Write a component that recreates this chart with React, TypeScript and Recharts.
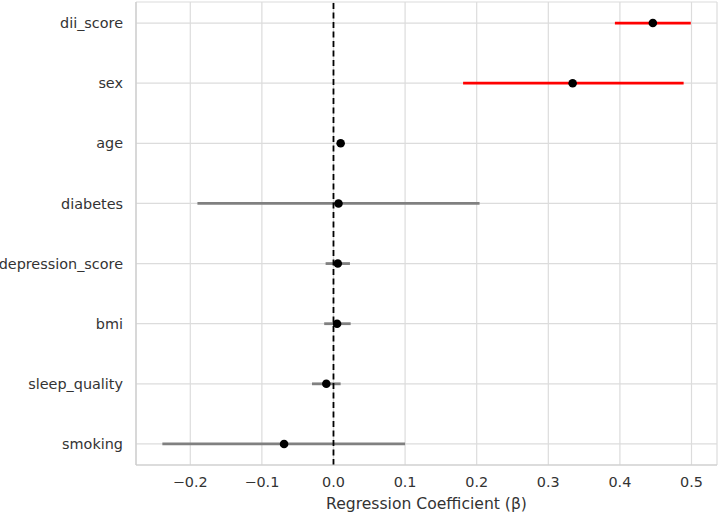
import React from 'react';
import { ScatterChart, Scatter, XAxis, YAxis, CartesianGrid, ReferenceLine, ErrorBar } from 'recharts';

const variables = ['dii_score', 'sex', 'age', 'diabetes', 'depression_score', 'bmi', 'sleep_quality', 'smoking'];
const betas = [0.446, 0.334, 0.010, 0.007, 0.006, 0.005, -0.010, -0.069];
const ciLow = [0.393, 0.181, 0.009, -0.190, -0.011, -0.013, -0.030, -0.239];
const ciHigh = [0.499, 0.489, 0.011, 0.204, 0.023, 0.024, 0.010, 0.100];
const significant = [true, true, false, false, false, false, false, false];
const xTicks = [-0.2, -0.1, 0.0, 0.1, 0.2, 0.3, 0.4, 0.5];

const rows = variables.map((name, i) => ({
  name,
  idx: i,
  beta: betas[i],
  err: [betas[i] - ciLow[i], ciHigh[i] - betas[i]],
}));
const sigRows = rows.filter((_, i) => significant[i]);
const nsRows = rows.filter((_, i) => !significant[i]);

const FONT = '"DejaVu Sans", sans-serif';
const TEXT = '#333333';
const FRAME = '#cccccc';

const fmtX = (v: number) => {
  const s = Math.abs(v).toFixed(1);
  return v < -1e-9 ? '\u2212' + s : s;
};

const Dot = (props: any) => <circle cx={props.cx} cy={props.cy} r={4.3} fill="#000" />;

export default function App() {
  return (
    <div style={{ position: 'absolute', left: 0, top: 0 }}>
      <ScatterChart width={720} height={513} margin={{ top: 2, right: 3, bottom: 0, left: 0 }}>
        <CartesianGrid xAxisId="main" yAxisId="main" stroke="#dcdcdc" strokeWidth={1.2} />
        <XAxis
          xAxisId="main"
          type="number"
          dataKey="beta"
          domain={[-0.2758, 0.5356]}
          ticks={xTicks}
          tickFormatter={fmtX}
          allowDataOverflow
          height={48}
          axisLine={{ stroke: FRAME, strokeWidth: 1.2 }}
          tickLine={false}
          tickMargin={6}
          tick={{ fill: TEXT, fontSize: 14.4, fontFamily: FONT }}
          label={{ value: 'Regression Coefficient (\u03b2)', position: 'insideBottom', offset: 4, fill: TEXT, fontSize: 15.6, fontFamily: FONT }}
        />
        <XAxis
          xAxisId="top"
          orientation="top"
          type="number"
          domain={[-0.2758, 0.5356]}
          allowDataOverflow
          height={0}
          tick={false}
          tickLine={false}
          axisLine={{ stroke: FRAME, strokeWidth: 1.2 }}
        />
        <YAxis
          yAxisId="main"
          type="number"
          dataKey="idx"
          domain={[-0.35, 7.35]}
          reversed
          ticks={[0, 1, 2, 3, 4, 5, 6, 7]}
          tickFormatter={(v: number) => variables[v] ?? ''}
          allowDataOverflow
          width={136}
          axisLine={{ stroke: FRAME, strokeWidth: 1.2 }}
          tickLine={false}
          tickMargin={7}
          tick={{ fill: TEXT, fontSize: 14.4, fontFamily: FONT }}
        />
        <YAxis
          yAxisId="right"
          orientation="right"
          type="number"
          domain={[-0.35, 7.35]}
          width={0}
          tick={false}
          tickLine={false}
          axisLine={{ stroke: FRAME, strokeWidth: 1.2 }}
        />
        <Scatter xAxisId="main" yAxisId="main" data={nsRows} dataKey="beta" shape={Dot} isAnimationActive={false}>
          <ErrorBar dataKey="err" direction="x" width={0} stroke="#808080" strokeWidth={2.8} isAnimationActive={false} />
        </Scatter>
        <Scatter xAxisId="main" yAxisId="main" data={sigRows} dataKey="beta" shape={Dot} isAnimationActive={false}>
          <ErrorBar dataKey="err" direction="x" width={0} stroke="#ff0000" strokeWidth={2.8} isAnimationActive={false} />
        </Scatter>
        <ReferenceLine xAxisId="main" yAxisId="main" x={0} stroke="#000" strokeWidth={1.8} strokeDasharray="6 3.5" />
      </ScatterChart>
    </div>
  );
}
